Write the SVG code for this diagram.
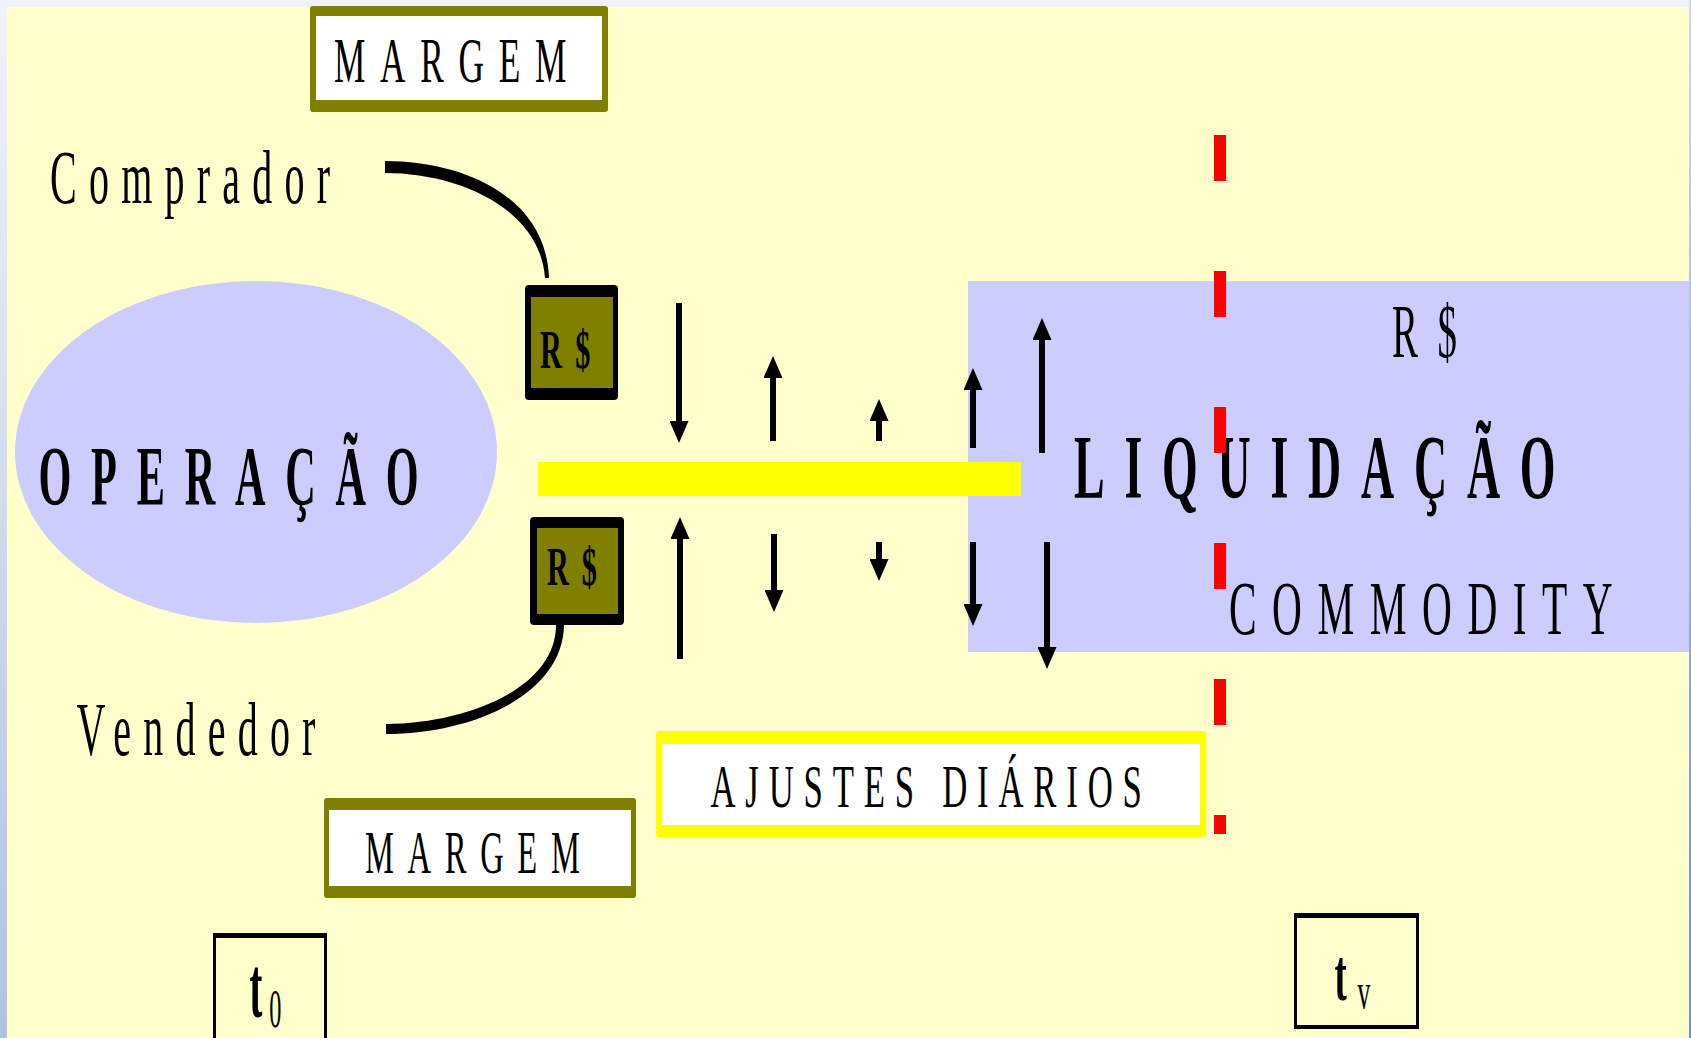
<svg xmlns="http://www.w3.org/2000/svg" width="1691" height="1038" viewBox="0 0 1691 1038">
<defs>
<linearGradient id="bgGrad" x1="0" y1="0" x2="0" y2="1">
<stop offset="0" stop-color="#F0F3F9"/>
<stop offset="1" stop-color="#AFC3E0"/>
</linearGradient>
<linearGradient id="edgeGrad" x1="0" y1="0" x2="0" y2="1">
<stop offset="0" stop-color="#D0DAEC"/>
<stop offset="1" stop-color="#6A8FC8"/>
</linearGradient>
<marker id="ah" markerUnits="userSpaceOnUse" markerWidth="22" markerHeight="19" viewBox="0 0 22 19" refX="0" refY="9.5" orient="auto">
<path d="M0,0 L22,9.5 L0,19 Z" fill="#000"/>
</marker>
<style>
.txt{font-family:"Liberation Serif","Times New Roman",serif;fill:#000}
.b{font-weight:bold}
.arrow{stroke:#000;stroke-width:6;fill:none;marker-end:url(#ah)}
.olive{fill:#808000}
.white{fill:#FFFFFF}
.tbox{fill:#FFFFCC}
</style>
</defs>

<rect x="0" y="0" width="1691" height="1038" fill="url(#bgGrad)"/>
<rect x="1689" y="0" width="2" height="1038" fill="url(#edgeGrad)"/>
<rect x="7" y="7" width="1682" height="1031" fill="#FFFFCC"/>

<g id="operacao">
<ellipse cx="256" cy="452" rx="241" ry="171" fill="#CCCCFF"/>
<text class="txt b" font-size="84" letter-spacing="39.3" transform="translate(38.5,505) scale(0.503,1)">OPERAÇÃO</text>
</g>

<g id="liquidacao">
<rect x="968" y="281" width="721" height="371" fill="#CCCCFF"/>
</g>

<g id="ajustes-bar">
<rect x="538" y="462" width="483" height="34" fill="#FFFF00"/>
</g>

<g id="connectors">
<path d="M385,161 C460,161 546,194 549,278 L545,278 C540,208 458,173 385,173 Z" fill="#000"/>
<path d="M386,724 C468,723 556,688 556,625 L564,625 C563,695 472,734 386,734 Z" fill="#000"/>
<line class="arrow" x1="679" y1="303" x2="679" y2="421"/>
<line class="arrow" x1="773" y1="441" x2="773" y2="378"/>
<line class="arrow" x1="879" y1="441" x2="879" y2="421"/>
<line class="arrow" x1="973" y1="448" x2="973" y2="390"/>
<line class="arrow" x1="1042" y1="453" x2="1042" y2="340"/>
<line class="arrow" x1="680" y1="659" x2="680" y2="539"/>
<line class="arrow" x1="774" y1="534" x2="774" y2="590"/>
<line class="arrow" x1="879" y1="542" x2="879" y2="559"/>
<line class="arrow" x1="973" y1="542" x2="973" y2="604"/>
<line class="arrow" x1="1047" y1="542" x2="1047" y2="647"/>
</g>

<g id="liquidacao-text">
<text class="txt" font-size="76" letter-spacing="38" transform="translate(1392,357) scale(0.512,1)">R$</text>
<text class="txt b" font-size="90" letter-spacing="38.8" transform="translate(1074,498) scale(0.51,1)">LIQUIDAÇÃO</text>
<text class="txt" font-size="77" letter-spacing="28.9" transform="translate(1229,634) scale(0.537,1)">COMMODITY</text>
</g>

<g id="vencimento-line">
<line x1="1220" y1="135" x2="1220" y2="834" stroke="#FF0000" stroke-width="12" stroke-dasharray="46 90"/>
</g>

<g id="margem-top">
<rect x="310" y="6" width="298" height="106" rx="3" class="olive"/>
<rect x="316" y="16" width="286" height="84" class="white"/>
<text class="txt" font-size="63.4" letter-spacing="26.5" transform="translate(334,82) scale(0.556,1)">MARGEM</text>
</g>

<g id="comprador">
<text class="txt" font-size="77" letter-spacing="23.5" transform="translate(50,203) scale(0.52,1)">Comprador</text>
</g>

<g id="vendedor">
<text class="txt" font-size="77" letter-spacing="23.5" transform="translate(76.5,755) scale(0.52,1)">Vendedor</text>
</g>

<g id="rs-top">
<rect x="525" y="285" width="93" height="115" rx="4" fill="#000"/>
<rect x="531" y="297" width="82" height="91" class="olive"/>
<text class="txt b" font-size="54" letter-spacing="24" transform="translate(540,368) scale(0.56,1)">R$</text>
</g>

<g id="rs-bottom">
<rect x="530" y="517" width="94" height="108" rx="4" fill="#000"/>
<rect x="537" y="528" width="81" height="86" class="olive"/>
<text class="txt b" font-size="54" letter-spacing="23" transform="translate(547,585) scale(0.56,1)">R$</text>
</g>

<g id="ajustes-diarios">
<rect x="656" y="731" width="550" height="106" rx="3" fill="#FFFF00"/>
<rect x="662" y="744" width="538" height="81" class="white"/>
<text class="txt" font-size="62" letter-spacing="17.5" transform="translate(710.5,807) scale(0.56,1)">AJUSTES DIÁRIOS</text>
</g>

<g id="margem-bottom">
<rect x="324" y="798" width="312" height="100" rx="3" class="olive"/>
<rect x="329" y="810" width="302" height="76" class="white"/>
<text class="txt" font-size="61.2" letter-spacing="25.7" transform="translate(365,872.5) scale(0.532,1)">MARGEM</text>
</g>

<g id="t0">
<rect x="213" y="933" width="114" height="115" fill="#000"/>
<rect x="216" y="938" width="108" height="110" class="tbox"/>
<text class="txt" transform="translate(249.5,1017) scale(0.45,1)"><tspan class="b" font-size="86">t</tspan><tspan font-size="54" dx="15" dy="10">0</tspan></text>
</g>

<g id="tv">
<rect x="1294" y="913" width="125" height="116" fill="#000"/>
<rect x="1297" y="918" width="119" height="107" class="tbox"/>
<text class="txt" transform="translate(1334.5,1000) scale(0.5,1)"><tspan class="b" font-size="74">t</tspan><tspan font-size="51" dx="21.4" dy="8">v</tspan></text>
</g>
</svg>
